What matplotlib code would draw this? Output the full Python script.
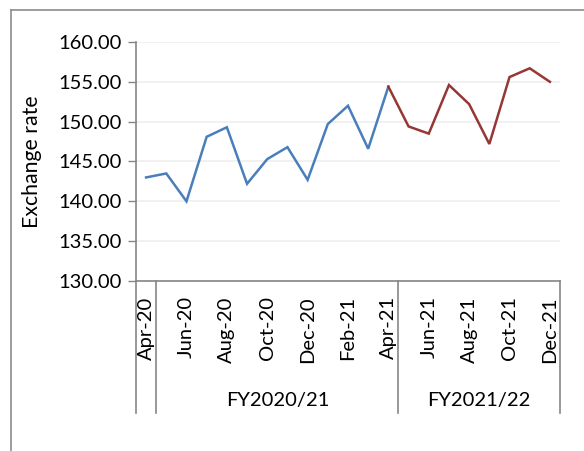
import numpy as np
import matplotlib
matplotlib.use('Agg')
import matplotlib.pyplot as plt
from matplotlib.lines import Line2D
import matplotlib.transforms as mtransforms

plt.rcParams['font.family'] = ['Lato', 'DejaVu Sans']

# monthly exchange rate, Apr-20 .. Dec-21
months = ['Apr-20', 'May-20', 'Jun-20', 'Jul-20', 'Aug-20', 'Sep-20', 'Oct-20',
          'Nov-20', 'Dec-20', 'Jan-21', 'Feb-21', 'Mar-21', 'Apr-21', 'May-21',
          'Jun-21', 'Jul-21', 'Aug-21', 'Sep-21', 'Oct-21', 'Nov-21', 'Dec-21']
rate_fy2021 = [143.0, 143.5, 140.0, 148.1, 149.3, 142.2, 145.3, 146.8, 142.7,
               149.7, 152.0, 146.6, 154.4]
rate_fy2122 = [154.4, 149.4, 148.5, 154.6, 152.2, 147.2, 155.6, 156.7, 155.0]
# outer category groups: label, number of months
groups = [('', 1), ('FY2020/21', 12), ('FY2021/22', 8)]
yticks = [130, 135, 140, 145, 150, 155, 160]

fs = 14.5
axcol = '#868686'

fig = plt.figure(figsize=(5.84, 4.51), dpi=100)
ax = fig.add_axes([136/584, 1-281/451, 424/584, 239/451])

x1 = np.arange(len(rate_fy2021))
x2 = np.arange(len(rate_fy2021)-1, len(rate_fy2021)-1+len(rate_fy2122))
ax.plot(x1, rate_fy2021, color='#4A7EBB', lw=1.8, solid_joinstyle='miter')
ax.plot(x2, rate_fy2122, color='#953735', lw=1.8, solid_joinstyle='miter')

ax.set_xlim(-0.5, len(months)-0.5)
ax.set_ylim(130, 160)
ax.set_yticks(yticks)
ax.set_yticklabels(['%.2f' % v for v in yticks], fontsize=fs)
ax.yaxis.grid(True, color='#EFEFEF', lw=1.2)
ax.set_axisbelow(True)
ax.tick_params(axis='y', length=6, width=1, color=axcol, pad=4)

xt = np.arange(0, len(months), 2)
ax.set_xticks(xt)
ax.set_xticklabels([months[i] for i in xt], rotation=90, fontsize=fs, va='top')
ax.tick_params(axis='x', length=0, pad=11)

for s in ['top', 'right']:
    ax.spines[s].set_visible(False)
for s in ['left', 'bottom']:
    ax.spines[s].set_color(axcol)
    ax.spines[s].set_linewidth(1.2)

ax.set_ylabel('Exchange rate', fontsize=15.3, labelpad=12)

# group separators and labels under the axis
trans = mtransforms.blended_transform_factory(ax.transData, ax.transAxes)
edge = -0.5
bounds = [edge]
for name, n in groups:
    mid = edge + n/2
    if name:
        ax.text(mid, -0.498, name, transform=trans, ha='center', va='center', fontsize=fs)
    edge += n
    bounds.append(edge)
for b in bounds:
    ax.add_line(Line2D([b, b], [0, -0.552], transform=trans, color=axcol, lw=1.2, clip_on=False))

# outer chart frame (left and top edges)
fig.add_artist(Line2D([11/584, 11/584], [0, 1-9.5/451], transform=fig.transFigure, color='#8C8C8C', lw=1.2))
fig.add_artist(Line2D([11/584, 1], [1-9.5/451, 1-9.5/451], transform=fig.transFigure, color='#8C8C8C', lw=1.2))

fig.savefig('out.png', dpi=100)
